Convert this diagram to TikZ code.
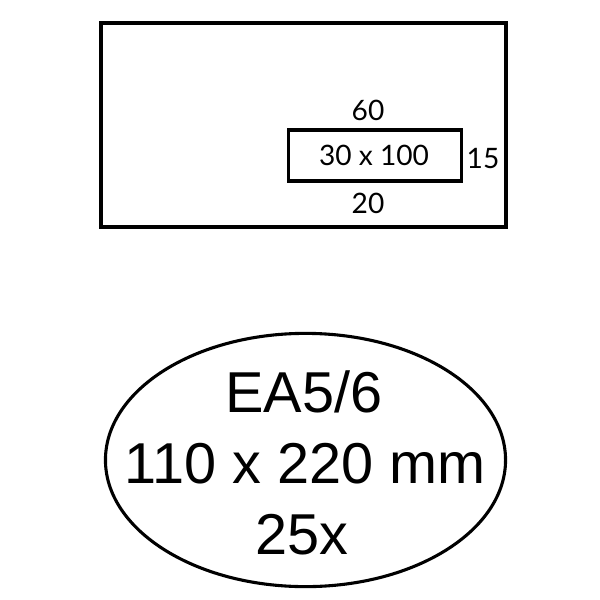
\documentclass[tikz,border=0pt]{standalone}
\usepackage{fontspec}
\setmainfont{Liberation Sans}
\newfontfamily\dimfont{Lato}
\usetikzlibrary{shapes.geometric}

\tikzset{
  dimlabel/.style={font=\dimfont\fontsize{20}{24}\selectfont,anchor=base,inner sep=0pt},
  biglabel/.style={font=\fontsize{41}{46}\selectfont,anchor=base,inner sep=0pt}
}

\begin{document}
\begin{tikzpicture}[x=0.025cm,y=-0.025cm]
    \useasboundingbox (0,0) rectangle (600,600);
    % envelope with window
    \draw[line width=2.8pt] (101,23) rectangle (506,227);
    \node[draw,line width=2.6pt,minimum width=4.33cm,minimum height=1.26cm,inner sep=0pt] (window) at (375,155.5) {};
    \node[dimlabel] (size) at (374,165) {30 x 100};
    \node[dimlabel] (top) at (368,120) {60};
    \node[dimlabel] (right) at (483,168) {15};
    \node[dimlabel] (bottom) at (368,213) {20};
    % oval with type
    \node[draw,ellipse,line width=2.2pt,minimum width=10.0cm,minimum height=6.33cm,inner sep=0pt] (oval) at (305.5,460) {};
    \node[biglabel] (type) at (304,412) {EA5/6};
    \node[biglabel] (format) at (305,483) {110 x 220 mm};
    \node[biglabel] (count) at (302,554) {25x};
\end{tikzpicture}
\end{document}
